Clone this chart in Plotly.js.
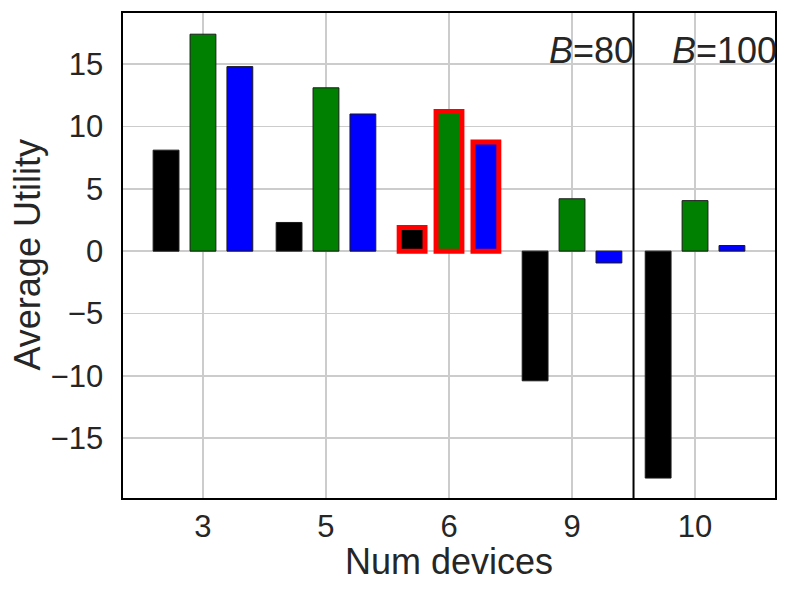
<!DOCTYPE html>
<html>
<head>
<meta charset="utf-8">
<script src="https://cdn.plot.ly/plotly-3.0.1.min.js"></script>
<style>html,body{margin:0;padding:0;background:#fff;}#chart{width:792px;height:596px;}</style>
</head>
<body>
<div id="chart"></div>
<script>
// Data
var categories = ['3', '5', '6', '9', '10'];
var seriesBlack = [8.1, 2.3, 1.9, -10.4, -18.2];
var seriesGreen = [17.4, 13.1, 11.2, 4.2, 4.05];
var seriesBlue = [14.8, 11.0, 8.75, -0.95, 0.45];
var highlighted = [false, false, true, false, false];
var budgetLabels = ['<i>B</i>=80', '<i>B</i>=100'];
var xTitle = 'Num devices';
var yTitle = 'Average Utility';

var txtColor = '#262626';
function edgeColors() { return highlighted.map(function (h) { return h ? '#ff0000' : '#1a1a1a'; }); }
function edgeWidths() { return highlighted.map(function (h) { return h ? 5 : 1; }); }

function mk(y, color) {
  return {
    type: 'bar', x: categories, y: y,
    marker: { color: color, line: { color: edgeColors(), width: edgeWidths() } },
    hoverinfo: 'y', showlegend: false
  };
}

var data = [mk(seriesBlack, '#000000'), mk(seriesGreen, '#008000'), mk(seriesBlue, '#0000ff')];

var layout = {
  width: 792, height: 596,
  margin: { l: 123, r: 17, t: 13, b: 98 },
  paper_bgcolor: '#ffffff', plot_bgcolor: '#ffffff',
  font: { family: 'Liberation Sans, Arial, sans-serif', color: txtColor, size: 31 },
  barmode: 'group', bargap: 0.1, bargroupgap: 0.3,
  xaxis: {
    type: 'category', range: [-0.65, 4.65],
    showgrid: true, gridcolor: '#cccccc', gridwidth: 1.5,
    showline: true, linecolor: '#000000', linewidth: 1.6, mirror: true,
    ticks: 'outside', ticklen: 0, tickcolor: 'rgba(0,0,0,0)',
    tickfont: { size: 31, color: txtColor }
  },
  yaxis: {
    range: [-19.8, 19.1], tickvals: [-15, -10, -5, 0, 5, 10, 15],
    ticktext: ['\u221215', '\u221210', '\u22125', '0', '5', '10', '15'],
    showgrid: true, gridcolor: '#cccccc', gridwidth: 1.5, zeroline: false,
    showline: true, linecolor: '#000000', linewidth: 1.6, mirror: true,
    ticks: 'outside', ticklen: 12, tickcolor: 'rgba(0,0,0,0)',
    tickfont: { size: 31, color: txtColor }
  },
  shapes: [{
    type: 'line', xref: 'x', yref: 'paper', x0: 3.5, x1: 3.5, y0: 0, y1: 1,
    line: { color: '#000000', width: 2 }
  }],
  annotations: [
    { xref: 'x', yref: 'y', x: 3.5, y: 16.1, xanchor: 'right', yanchor: 'middle', xshift: 2,
      text: budgetLabels[0], showarrow: false, font: { size: 36, color: txtColor } },
    { xref: 'x', yref: 'y', x: 3.5, y: 16.1, xanchor: 'left', yanchor: 'middle', xshift: 36,
      text: budgetLabels[1], showarrow: false, font: { size: 36, color: txtColor } },
    { xref: 'paper', yref: 'paper', x: 0.5, y: -0.13, xanchor: 'center', yanchor: 'middle',
      text: xTitle, showarrow: false, font: { size: 36, color: txtColor } },
    { xref: 'paper', yref: 'paper', x: -0.1472, y: 0.5, xanchor: 'center', yanchor: 'middle',
      textangle: -90, text: yTitle, showarrow: false, font: { size: 36, color: txtColor } }
  ]
};

Plotly.newPlot('chart', data, layout, { displayModeBar: false, staticPlot: true });
</script>
</body>
</html>
